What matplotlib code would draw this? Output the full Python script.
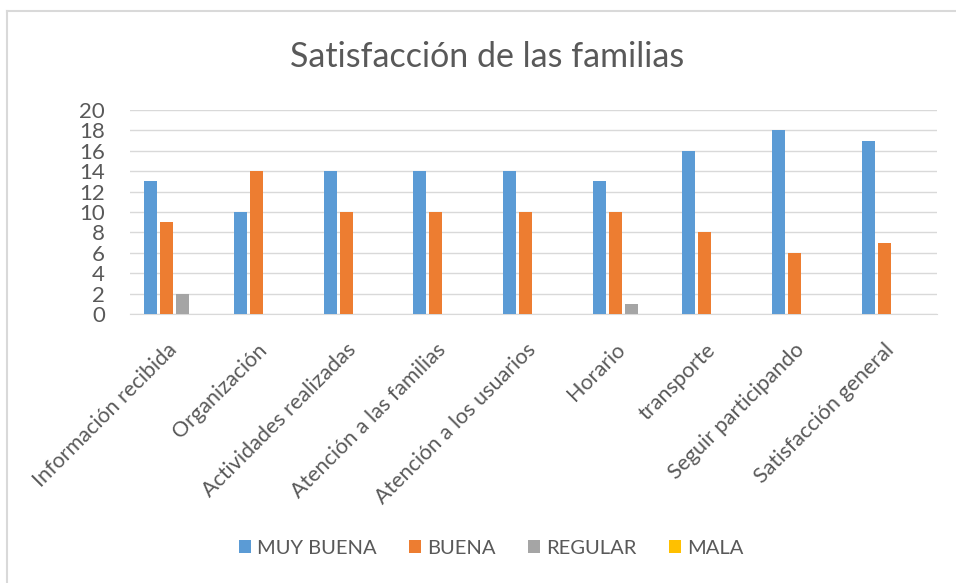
import numpy as np
import matplotlib.pyplot as plt
from matplotlib.lines import Line2D
from matplotlib.transforms import ScaledTranslation

# datos
categorias = ['Información recibida', 'Organización', 'Actividades realizadas',
              'Atención a las familias', 'Atención a los usuarios', 'Horario',
              'transporte', 'Seguir participando', 'Satisfacción general']
muy_buena = [13, 10, 14, 14, 14, 13, 16, 18, 17]
buena = [9, 14, 10, 10, 10, 10, 8, 6, 7]
regular = [2, 0, 0, 0, 0, 1, 0, 0, 0]
mala = [0, 0, 0, 0, 0, 0, 0, 0, 0]

series = [('MUY BUENA', muy_buena, '#5B9BD5'),
          ('BUENA', buena, '#ED7D31'),
          ('REGULAR', regular, '#A5A5A5'),
          ('MALA', mala, '#FFC000')]

plt.rcParams['font.family'] = ['Lato', 'DejaVu Sans']
txt = '#595959'

fig = plt.figure(figsize=(9.56, 5.83), dpi=100)
ax = fig.add_axes([130/956, 1 - 314/583, (937-130)/956, (314-110)/583])

# marco del grafico (solo arriba e izquierda)
fig.lines.append(Line2D([7/956, 1], [1 - 11/583, 1 - 11/583], transform=fig.transFigure,
                        color='#D9D9D9', linewidth=1.5))
fig.lines.append(Line2D([7/956, 7/956], [0, 1 - 11/583], transform=fig.transFigure,
                        color='#D9D9D9', linewidth=1.5))

x = np.arange(len(categorias))
w = 0.145
paso = 0.179
for i, (nombre, vals, color) in enumerate(series):
    ax.bar(x + (i - 1.5) * paso, vals, width=w, color=color, label=nombre, zorder=3)

ax.set_xlim(-0.5, len(categorias) - 0.5)
ax.set_ylim(0, 20)
ax.set_yticks(range(0, 21, 2))
ax.grid(axis='y', color='#D9D9D9', linewidth=1, zorder=0)
for s in ['top', 'right', 'left']:
    ax.spines[s].set_visible(False)
ax.spines['bottom'].set_color('#D9D9D9')
ax.tick_params(axis='both', length=0, colors=txt)
ax.tick_params(axis='y', pad=18, labelsize=16)
ax.set_xticks(x)
ax.set_xticklabels(categorias, rotation=45, ha='right', rotation_mode='anchor', fontsize=15.5)
ax.tick_params(axis='x', pad=10)
desplaza = ScaledTranslation(-8/100, -12/100, fig.dpi_scale_trans)
for lab in ax.get_xticklabels():
    lab.set_transform(lab.get_transform() + desplaza)

fig.text(487/956, 1 - 57/583, 'Satisfacción de las familias', ha='center', va='center',
         fontsize=24.5, color=txt)

ax.legend(loc='center', bbox_to_anchor=(491/956, 1 - 548/583), bbox_transform=fig.transFigure,
          ncol=4, frameon=False, fontsize=14.5, labelcolor=txt,
          handlelength=0.6, handleheight=0.6, handletextpad=0.3, columnspacing=1.6)

fig.savefig('out.png', dpi=100)
